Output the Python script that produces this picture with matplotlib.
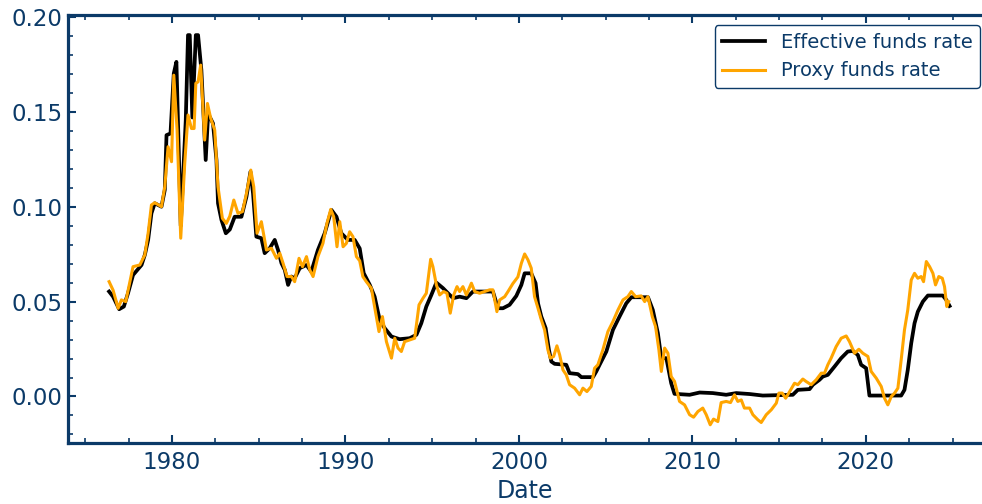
import matplotlib
matplotlib.use("Agg")
import matplotlib.pyplot as plt
from matplotlib.ticker import MultipleLocator

NAVY = "#0b3a68"

# effective funds rate (decimal), keyed by fractional year
eff_dates = [
    1976.37, 1976.60, 1976.95, 1977.22, 1977.46, 1977.75, 1978.24, 1978.43,
    1978.62, 1978.81, 1979.00, 1979.39, 1979.58, 1979.68, 1979.91, 1980.10,
    1980.25, 1980.50, 1980.79, 1980.92, 1981.02, 1981.17, 1981.37, 1981.50,
    1981.69, 1981.94, 1982.08, 1982.36, 1982.56, 1982.65, 1982.85, 1983.10,
    1983.33, 1983.61, 1984.00, 1984.29, 1984.52, 1984.67, 1984.86, 1985.15,
    1985.34, 1985.63, 1985.92, 1986.11, 1986.31, 1986.50, 1986.69, 1986.88,
    1987.07, 1987.36, 1987.75, 1988.03, 1988.41, 1988.80, 1989.19, 1989.48,
    1989.76, 1990.14, 1990.53, 1990.82, 1991.05, 1991.40, 1991.68, 1991.97,
    1992.26, 1992.65, 1993.12, 1993.70, 1994.09, 1994.37, 1994.66, 1994.95,
    1995.24, 1995.62, 1995.91, 1996.20, 1996.58, 1996.97, 1997.35, 1997.93,
    1998.50, 1998.79, 1999.08, 1999.46, 1999.85, 2000.14, 2000.33, 2000.71,
    2000.96, 2001.10, 2001.29, 2001.54, 2001.73, 2001.87, 2002.06, 2002.73,
    2002.92, 2003.40, 2003.60, 2004.27, 2004.46, 2004.65, 2005.04, 2005.42,
    2005.80, 2006.19, 2006.48, 2007.44, 2007.72, 2008.01, 2008.21, 2008.50,
    2008.78, 2008.97, 2009.84, 2010.42, 2011.18, 2011.95, 2012.53, 2013.30,
    2014.06, 2015.79, 2016.08, 2016.76, 2016.95, 2017.33, 2017.52, 2017.81,
    2018.20, 2018.58, 2018.96, 2019.25, 2019.54, 2019.73, 2020.02, 2020.21,
    2022.04, 2022.23, 2022.42, 2022.62, 2022.81, 2023.00, 2023.29, 2023.58,
    2024.44, 2024.64, 2024.83,
]
eff_rate = [
    0.0553, 0.0526, 0.0460, 0.0474, 0.0544, 0.0640, 0.0693, 0.0746,
    0.0825, 0.0965, 0.1018, 0.1000, 0.1088, 0.1377, 0.1386, 0.1702,
    0.1763, 0.0900, 0.1456, 0.1904, 0.1904, 0.1470, 0.1904, 0.1904,
    0.1720, 0.1246, 0.1490, 0.1439, 0.1246, 0.1018, 0.0930, 0.0860,
    0.0880, 0.0947, 0.0947, 0.1053, 0.1184, 0.1070, 0.0842, 0.0834,
    0.0755, 0.0781, 0.0825, 0.0772, 0.0702, 0.0667, 0.0588, 0.0632,
    0.0623, 0.0676, 0.0693, 0.0658, 0.0772, 0.0860, 0.0983, 0.0947,
    0.0860, 0.0825, 0.0825, 0.0780, 0.0650, 0.0588, 0.0526, 0.0404,
    0.0360, 0.0316, 0.0302, 0.0307, 0.0325, 0.0386, 0.0474, 0.0535,
    0.0600, 0.0571, 0.0544, 0.0518, 0.0526, 0.0518, 0.0553, 0.0553,
    0.0553, 0.0465, 0.0465, 0.0483, 0.0530, 0.0588, 0.0649, 0.0649,
    0.0597, 0.0491, 0.0421, 0.0360, 0.0246, 0.0184, 0.0172, 0.0167,
    0.0123, 0.0118, 0.0102, 0.0102, 0.0132, 0.0167, 0.0237, 0.0351,
    0.0421, 0.0491, 0.0523, 0.0523, 0.0456, 0.0334, 0.0202, 0.0202,
    0.0070, 0.0014, 0.0009, 0.0021, 0.0018, 0.0009, 0.0018, 0.0013,
    0.0005, 0.0009, 0.0035, 0.0039, 0.0062, 0.0088, 0.0105, 0.0114,
    0.0158, 0.0202, 0.0237, 0.0240, 0.0219, 0.0167, 0.0149, 0.0005,
    0.0005, 0.0035, 0.0140, 0.0281, 0.0386, 0.0447, 0.0500, 0.0532,
    0.0532, 0.0509, 0.0477,
]

# proxy funds rate (decimal)
proxy_dates = [
    1976.37, 1976.60, 1976.89, 1977.08, 1977.33, 1977.75, 1978.14, 1978.43,
    1978.62, 1978.81, 1979.00, 1979.39, 1979.58, 1979.77, 1979.97, 1980.10,
    1980.29, 1980.50, 1980.73, 1980.92, 1981.12, 1981.27, 1981.37, 1981.50,
    1981.65, 1981.88, 1982.04, 1982.23, 1982.46, 1982.65, 1982.90, 1983.13,
    1983.33, 1983.56, 1983.80, 1984.06, 1984.29, 1984.54, 1984.71, 1984.90,
    1985.15, 1985.44, 1985.73, 1986.02, 1986.21, 1986.40, 1986.63, 1986.88,
    1987.07, 1987.32, 1987.52, 1987.75, 1987.94, 1988.13, 1988.41, 1988.70,
    1988.93, 1989.15, 1989.32, 1989.51, 1989.67, 1989.86, 1990.05, 1990.24,
    1990.43, 1990.63, 1990.82, 1991.00, 1991.20, 1991.49, 1991.78, 1991.93,
    1992.13, 1992.36, 1992.65, 1992.84, 1993.03, 1993.22, 1993.41, 1993.70,
    1993.99, 1994.24, 1994.47, 1994.66, 1994.91, 1995.04, 1995.24, 1995.43,
    1995.66, 1995.85, 1996.04, 1996.24, 1996.43, 1996.58, 1996.77, 1996.97,
    1997.26, 1997.45, 1997.73, 1998.02, 1998.31, 1998.50, 1998.73, 1998.89,
    1999.18, 1999.37, 1999.65, 1999.94, 2000.14, 2000.33, 2000.52, 2000.71,
    2000.90, 2001.10, 2001.29, 2001.48, 2001.67, 2001.81, 2002.00, 2002.19,
    2002.35, 2002.54, 2002.73, 2002.92, 2003.21, 2003.50, 2003.69, 2003.92,
    2004.17, 2004.36, 2004.55, 2004.84, 2005.13, 2005.42, 2005.71, 2006.00,
    2006.28, 2006.48, 2006.73, 2007.05, 2007.25, 2007.44, 2007.69, 2007.88,
    2008.07, 2008.21, 2008.40, 2008.59, 2008.78, 2008.97, 2009.26, 2009.55,
    2009.84, 2010.07, 2010.32, 2010.60, 2010.80, 2011.03, 2011.22, 2011.47,
    2011.66, 2011.95, 2012.20, 2012.43, 2012.62, 2012.82, 2013.00, 2013.30,
    2013.49, 2013.78, 2013.97, 2014.26, 2014.55, 2014.84, 2014.99, 2015.18,
    2015.38, 2015.61, 2015.89, 2016.08, 2016.37, 2016.56, 2016.85, 2017.14,
    2017.43, 2017.62, 2017.81, 2018.00, 2018.29, 2018.58, 2018.87, 2019.06,
    2019.35, 2019.60, 2019.83, 2020.12, 2020.31, 2020.60, 2020.89, 2021.08,
    2021.27, 2021.47, 2021.66, 2021.85, 2022.04, 2022.23, 2022.42, 2022.62,
    2022.81, 2023.00, 2023.19, 2023.33, 2023.49, 2023.68, 2023.87, 2024.02,
    2024.21, 2024.41, 2024.54, 2024.67, 2024.78,
]
proxy_rate = [
    0.0605, 0.0560, 0.0465, 0.0509, 0.0500, 0.0684, 0.0693, 0.0746,
    0.0860, 0.1009, 0.1021, 0.1000, 0.1105, 0.1316, 0.1237, 0.1693,
    0.1404, 0.0834, 0.1228, 0.1483, 0.1412, 0.1412, 0.1650, 0.1658,
    0.1746, 0.1351, 0.1544, 0.1465, 0.1404, 0.1105, 0.0939, 0.0912,
    0.0950, 0.1035, 0.0965, 0.0974, 0.1070, 0.1193, 0.1105, 0.0860,
    0.0921, 0.0772, 0.0781, 0.0728, 0.0755, 0.0702, 0.0632, 0.0632,
    0.0605, 0.0728, 0.0684, 0.0737, 0.0667, 0.0632, 0.0737, 0.0807,
    0.0912, 0.0986, 0.0947, 0.0789, 0.0921, 0.0789, 0.0807, 0.0868,
    0.0842, 0.0737, 0.0715, 0.0632, 0.0605, 0.0571, 0.0421, 0.0342,
    0.0421, 0.0289, 0.0202, 0.0307, 0.0255, 0.0237, 0.0289, 0.0298,
    0.0307, 0.0483, 0.0518, 0.0544, 0.0723, 0.0684, 0.0588, 0.0535,
    0.0553, 0.0544, 0.0439, 0.0535, 0.0579, 0.0553, 0.0579, 0.0535,
    0.0597, 0.0553, 0.0544, 0.0553, 0.0562, 0.0562, 0.0447, 0.0509,
    0.0526, 0.0553, 0.0595, 0.0630, 0.0702, 0.0751, 0.0720, 0.0676,
    0.0526, 0.0465, 0.0404, 0.0351, 0.0246, 0.0202, 0.0211, 0.0267,
    0.0219, 0.0140, 0.0114, 0.0062, 0.0044, 0.0009, 0.0044, 0.0026,
    0.0053, 0.0149, 0.0167, 0.0246, 0.0342, 0.0395, 0.0456, 0.0509,
    0.0526, 0.0553, 0.0526, 0.0530, 0.0500, 0.0526, 0.0421, 0.0368,
    0.0246, 0.0132, 0.0255, 0.0228, 0.0105, 0.0080, -0.0026, -0.0044,
    -0.0096, -0.0109, -0.0079, -0.0061, -0.0096, -0.0149, -0.0119, -0.0132,
    -0.0032, -0.0026, -0.0032, 0.0009, -0.0026, -0.0018, -0.0061, -0.0061,
    -0.0096, -0.0123, -0.0137, -0.0096, -0.0070, -0.0035, 0.0018, 0.0018,
    -0.0009, 0.0026, 0.0070, 0.0062, 0.0092, 0.0079, 0.0062, 0.0088,
    0.0123, 0.0123, 0.0167, 0.0202, 0.0263, 0.0307, 0.0319, 0.0289,
    0.0228, 0.0249, 0.0228, 0.0211, 0.0132, 0.0097, 0.0053, -0.0009,
    -0.0044, 0.0000, 0.0018, 0.0044, 0.0193, 0.0351, 0.0456, 0.0614,
    0.0649, 0.0623, 0.0632, 0.0605, 0.0711, 0.0684, 0.0649, 0.0588,
    0.0632, 0.0623, 0.0579, 0.0474, 0.0500,
]

fig = plt.figure(figsize=(9.82, 5.04), dpi=100)
ax = fig.add_axes([68 / 982, 61 / 504, 914 / 982, 428 / 504])

ax.plot(eff_dates, eff_rate, color="black", lw=2.7, label="Effective funds rate")
ax.plot(proxy_dates, proxy_rate, color="orange", lw=2.2, label="Proxy funds rate")

ax.set_xlim(1974, 2026.7)
ax.set_ylim(-0.0245, 0.201)
ax.xaxis.set_major_locator(MultipleLocator(10))
ax.xaxis.set_minor_locator(MultipleLocator(2.5))
ax.yaxis.set_major_locator(MultipleLocator(0.05))
ax.yaxis.set_minor_locator(MultipleLocator(0.01))

ax.tick_params(which="both", direction="in", top=True, right=False,
               colors=NAVY, labelcolor=NAVY, labelsize=16.5)
ax.tick_params(which="major", length=6, width=1.5)
ax.tick_params(axis="y", which="major", pad=4)
ax.tick_params(axis="x", which="major", pad=6)
ax.tick_params(which="minor", length=3.5, width=1.2)
for side in ["left", "bottom", "top"]:
    ax.spines[side].set_color(NAVY)
    ax.spines[side].set_linewidth(2.3)
ax.spines["right"].set_visible(False)

ax.set_xlabel("Date", color=NAVY, fontsize=17, labelpad=3)

leg = ax.legend(loc="upper right", bbox_to_anchor=(0.998, 0.977), borderaxespad=0,
                fontsize=14, labelcolor=NAVY, fancybox=True, framealpha=1,
                handlelength=2.2)
leg.get_frame().set_edgecolor(NAVY)
leg.get_frame().set_linewidth(1.0)

fig.savefig("out.png", dpi=100)
